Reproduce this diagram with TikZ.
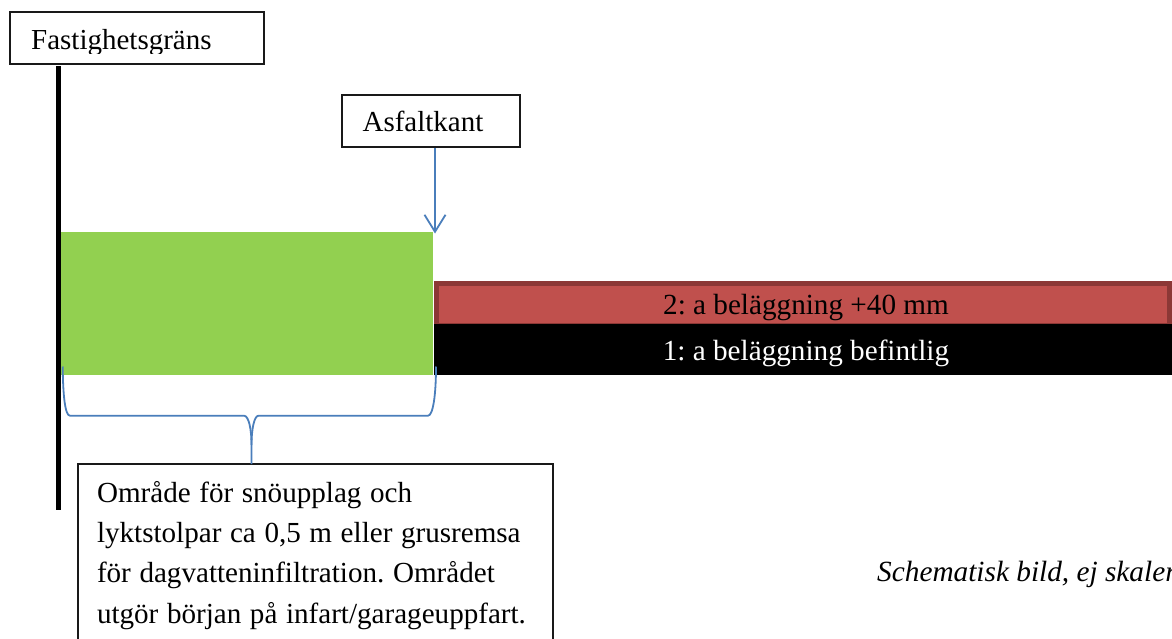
\documentclass[tikz,border=0pt]{standalone}
\usepackage{fontspec}
\setmainfont{Liberation Serif}
\usetikzlibrary{arrows.meta}
\definecolor{lineblue}{HTML}{4A7EBB}
\definecolor{areagreen}{HTML}{92D050}
\definecolor{layerred}{HTML}{C0504D}
\definecolor{layeredge}{HTML}{8C3836}
\tikzset{
  flat/.style={anchor=north west, inner sep=0pt, outer sep=0pt},
  label box/.style={flat, draw=black!90, line width=1.2pt, fill=white},
  layer text/.style={font=\fontsize{29.2}{40.4}\selectfont\frenchspacing},
  connector/.style={draw=lineblue, line width=1.8pt},
  open head/.style={-{Straight Barb[length=17pt,width=21pt,line width=1.8pt]}}
}
\begin{document}
\begin{tikzpicture}[x=1pt,y=-1pt,font=\fontsize{29}{40.4}\selectfont\frenchspacing]
\useasboundingbox (0,0) rectangle (1172,639);
\fill[white] (0,0) rectangle (1172,639);
% layers
\node[flat, fill=areagreen, minimum width=373pt, minimum height=143pt] (green) at (60,232) {};
\node[flat, layer text, draw=layeredge, line width=5pt, fill=layerred, minimum width=733pt, minimum height=42pt, text height=30.5pt, text depth=11.5pt] (red) at (436.5,283.5) {\hspace*{6pt}2: a beläggning +40 mm};
\node[flat, layer text, fill=black, text=white, minimum width=738pt, minimum height=51pt, text height=36pt, text depth=15pt] (black) at (434,324) {\hspace*{6pt}1: a beläggning befintlig};
\node[flat, fill=black, minimum width=5.2pt, minimum height=444pt] (pole) at (55.5,66) {};
% labels
\node[label box, minimum width=254pt, minimum height=52pt] (fast) at (10,12) {};
\begin{scope}
\clip (0,0) rectangle (1172,53.5);
\node[anchor=base west, inner sep=0pt] (fasttext) at (31,50) {Fastighetsgräns};
\end{scope}
\node[label box, minimum width=178pt, minimum height=52pt, text height=37pt, text depth=15pt] (asfalt) at (342,95) {Asfaltkant\hspace*{16pt}};
\node[label box, text width=437pt, inner xsep=19pt, inner ysep=17pt, align=left, font=\fontsize{29.1}{40.4}\selectfont\frenchspacing] (note) at (78,464) {\spaceskip=8.6pt\relax Område för snöupplag och\\lyktstolpar ca 0,5 m eller grusremsa\\för dagvatteninfiltration. Området\\utgör början på infart/garageuppfart.};
\node[anchor=base west, inner sep=0pt, font=\fontsize{29.3}{40.4}\selectfont\itshape\frenchspacing] (schema) at (877,581.7) {Schematisk bild, ej skaler};
% connectors
\coordinate (edgetop) at (435,148);
\coordinate (edgetip) at (435,233.5);
\draw[connector, open head] (edgetop) -- (edgetip);
\coordinate (braceL) at (62.7,366.5);
\coordinate (braceR) at (436,366.5);
\coordinate (braceT) at (251.5,464);
\draw[connector] (braceL) .. controls (63,395) and (65,415.7) .. (70,415.7) -- (244,415.7)
  .. controls (248.5,415.7) and (251.5,428) .. (251.5,445) -- (braceT);
\draw[connector] (braceR) .. controls (436,395) and (433,415.7) .. (428,415.7) -- (258.5,415.7)
  .. controls (254.5,415.7) and (251.5,428) .. (251.5,445);
\end{tikzpicture}
\end{document}
